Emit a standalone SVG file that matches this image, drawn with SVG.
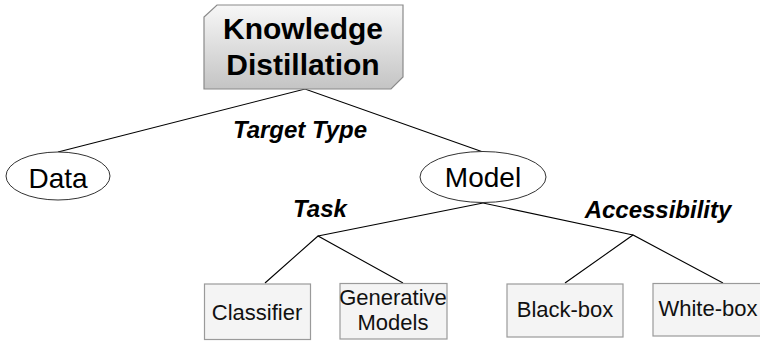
<svg xmlns="http://www.w3.org/2000/svg" width="760" height="342" viewBox="0 0 760 342">
  <defs>
    <linearGradient id="rootFill" x1="0" y1="0" x2="0" y2="1">
      <stop offset="0" stop-color="#f7f7f7"/>
      <stop offset="1" stop-color="#c4c4c4"/>
    </linearGradient>
    <style>
      .edge { fill: none; stroke: #000; stroke-width: 1.1; }
      .root { fill: url(#rootFill); stroke: #8a8a8a; stroke-width: 1.2; }
      .rootText { font-family: "Liberation Sans", Arial, sans-serif; font-weight: bold; font-size: 30px; fill: #000; text-anchor: middle; }
      .oval { fill: #fff; stroke: #333; stroke-width: 1; }
      .ovalText { font-family: "Liberation Sans", Arial, sans-serif; font-size: 28px; fill: #000; text-anchor: middle; }
      .leaf { fill: #f4f4f4; stroke: #9a9a9a; stroke-width: 1.2; }
      .leafText { font-family: "Liberation Sans", Arial, sans-serif; font-size: 22px; fill: #111; text-anchor: middle; }
      .label { font-family: "Liberation Sans", Arial, sans-serif; font-weight: bold; font-style: italic; font-size: 24px; fill: #000; text-anchor: middle; }
    </style>
  </defs>

  <!-- connectors -->
  <g id="connectors">
    <polyline class="edge" points="58,152 305,89 483,152"/>
    <polyline class="edge" points="483,203 318,236"/>
    <polyline class="edge" points="483,203 633,235"/>
    <polyline class="edge" points="265,283 318,236 403,283"/>
    <polyline class="edge" points="565,283 633,235 723,283"/>
  </g>

  <!-- branch labels -->
  <g id="labels">
    <text class="label" x="300" y="138">Target Type</text>
    <text class="label" x="320" y="217">Task</text>
    <text class="label" x="658" y="218">Accessibility</text>
  </g>

  <g id="knowledge-distillation">
    <polygon class="root" points="217,5 403,5 403,77 391,89 204,89 204,17"/>
    <text class="rootText" x="303" y="39">Knowledge</text>
    <text class="rootText" x="303" y="75">Distillation</text>
  </g>

  <g id="data">
    <ellipse class="oval" cx="58" cy="176" rx="52" ry="24"/>
    <text class="ovalText" x="58" y="188">Data</text>
  </g>

  <g id="model">
    <ellipse class="oval" cx="483" cy="177" rx="63" ry="25.5"/>
    <text class="ovalText" x="483" y="187">Model</text>
  </g>

  <g id="classifier">
    <rect class="leaf" x="204.5" y="284" width="106" height="55.5"/>
    <text class="leafText" x="257" y="320">Classifier</text>
  </g>

  <g id="generative-models">
    <rect class="leaf" x="340" y="283.5" width="107" height="55.5"/>
    <text class="leafText" x="393" y="305">Generative</text>
    <text class="leafText" x="393" y="330">Models</text>
  </g>

  <g id="black-box">
    <rect class="leaf" x="507" y="284" width="116" height="53"/>
    <text class="leafText" x="565" y="317">Black-box</text>
  </g>

  <g id="white-box">
    <rect class="leaf" x="653" y="283.5" width="120" height="52.5"/>
    <text class="leafText" x="708" y="316">White-box</text>
  </g>
</svg>
